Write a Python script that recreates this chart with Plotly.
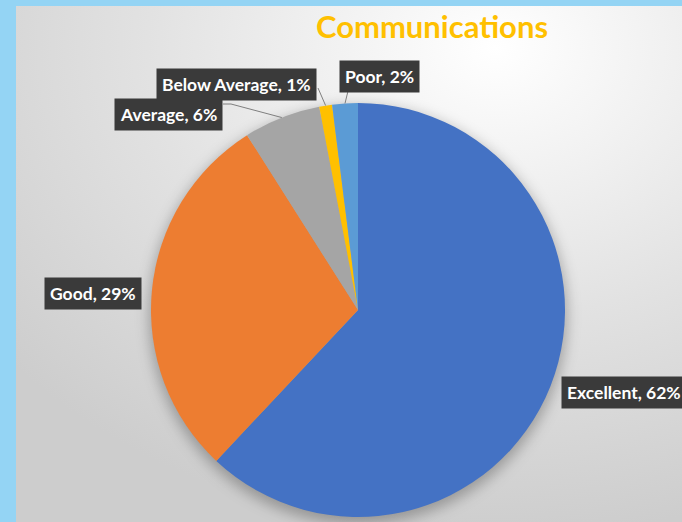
import base64, math
import plotly.graph_objects as go

categories = ["Excellent", "Good", "Average", "Below Average", "Poor"]
values = [62, 29, 6, 1, 2]
colors = ["#4472C4", "#ED7D31", "#A5A5A5", "#FFC000", "#5B9BD5"]
title_text = "Communications"

W, H = 682, 522
# pie geometry (pixels)
cx, cy, R = 358, 310, 207

# background: light blue frame + gray radial gradient + soft shadow under pie
svg = f'''<svg xmlns="http://www.w3.org/2000/svg" width="{W}" height="{H}" viewBox="0 0 {W} {H}">
<defs>
<radialGradient id="g" cx="0.72" cy="0.08" r="0.95">
<stop offset="0" stop-color="#ffffff"/>
<stop offset="0.55" stop-color="#e2e2e2"/>
<stop offset="1" stop-color="#cdcdcd"/>
</radialGradient>
<filter id="b" x="-20%" y="-20%" width="140%" height="140%"><feGaussianBlur stdDeviation="7"/></filter>
</defs>
<rect x="0" y="0" width="{W}" height="{H}" fill="#94D4F4"/>
<rect x="16" y="6" width="{W-16}" height="{H-6}" fill="url(#g)"/>
<circle cx="{cx}" cy="{cy+5}" r="{R+2}" fill="#000" fill-opacity="0.28" filter="url(#b)"/>
</svg>'''
src = "data:image/svg+xml;base64," + base64.b64encode(svg.encode()).decode()

fig = go.Figure()
fig.add_trace(go.Pie(
    labels=categories, values=values, sort=False, direction="clockwise", rotation=0,
    marker=dict(colors=colors, line=dict(width=0)),
    textinfo="none", hoverinfo="label+percent", showlegend=False,
    domain=dict(x=[(cx - R) / W, (cx + R) / W], y=[(H - cy - R) / H, (H - cy + R) / H]),
))

def px(x):
    return x / W

def py(y):
    return 1 - y / H

# label positions (pixels): text centers
label_pos = {
    "Excellent": (624, 392),
    "Good": (93, 293),
    "Average": (168, 115),
    "Below Average": (236, 84),
    "Poor": (380, 76),
}
# leader line start points (pixels) on the label boxes
leader_start = {
    "Average": [(223, 104), (231, 104)],
    "Below Average": [(318, 88)],
    "Poor": [(348, 91)],
}

total = sum(values)
cum = 0
annotations = []
shapes = []
for cat, v in zip(categories, values):
    pct = round(100 * v / total)
    mid = (cum + v / 2) / total * 2 * math.pi
    cum += v
    ex = cx + R * math.sin(mid)
    ey = cy - R * math.cos(mid)
    lx, ly = label_pos[cat]
    annotations.append(dict(
        x=px(lx), y=py(ly), xref="paper", yref="paper", showarrow=False,
        text=f"{cat}, {pct}%", font=dict(family="Lato", size=17.5, color="white", weight="bold"),
        bgcolor="#3a3a3a", borderpad=5, xanchor="center", yanchor="middle",
    ))
    if cat in leader_start:
        pts = leader_start[cat] + [(ex, ey)]
        path = "M " + " L ".join(f"{px(a)},{py(b)}" for a, b in pts)
        shapes.append(dict(type="path", xref="paper", yref="paper", path=path,
                           line=dict(color="#7f7f7f", width=1)))

fig.update_layout(
    width=W, height=H,
    margin=dict(l=0, r=0, t=0, b=0),
    paper_bgcolor="#94D4F4", plot_bgcolor="rgba(0,0,0,0)",
    title=dict(text=title_text, x=432 / W, y=py(27), xanchor="center", yanchor="middle",
               font=dict(family="Lato", size=31, color="#FFC000", weight="bold")),
    images=[dict(source=src, xref="paper", yref="paper", x=0, y=1, sizex=1, sizey=1,
                 sizing="stretch", xanchor="left", yanchor="top", layer="below")],
    annotations=annotations,
    shapes=shapes,
)

fig.write_html("out.html", config={"displayModeBar": False},
               post_script="document.body.style.margin='0';document.body.style.overflow='hidden';")
